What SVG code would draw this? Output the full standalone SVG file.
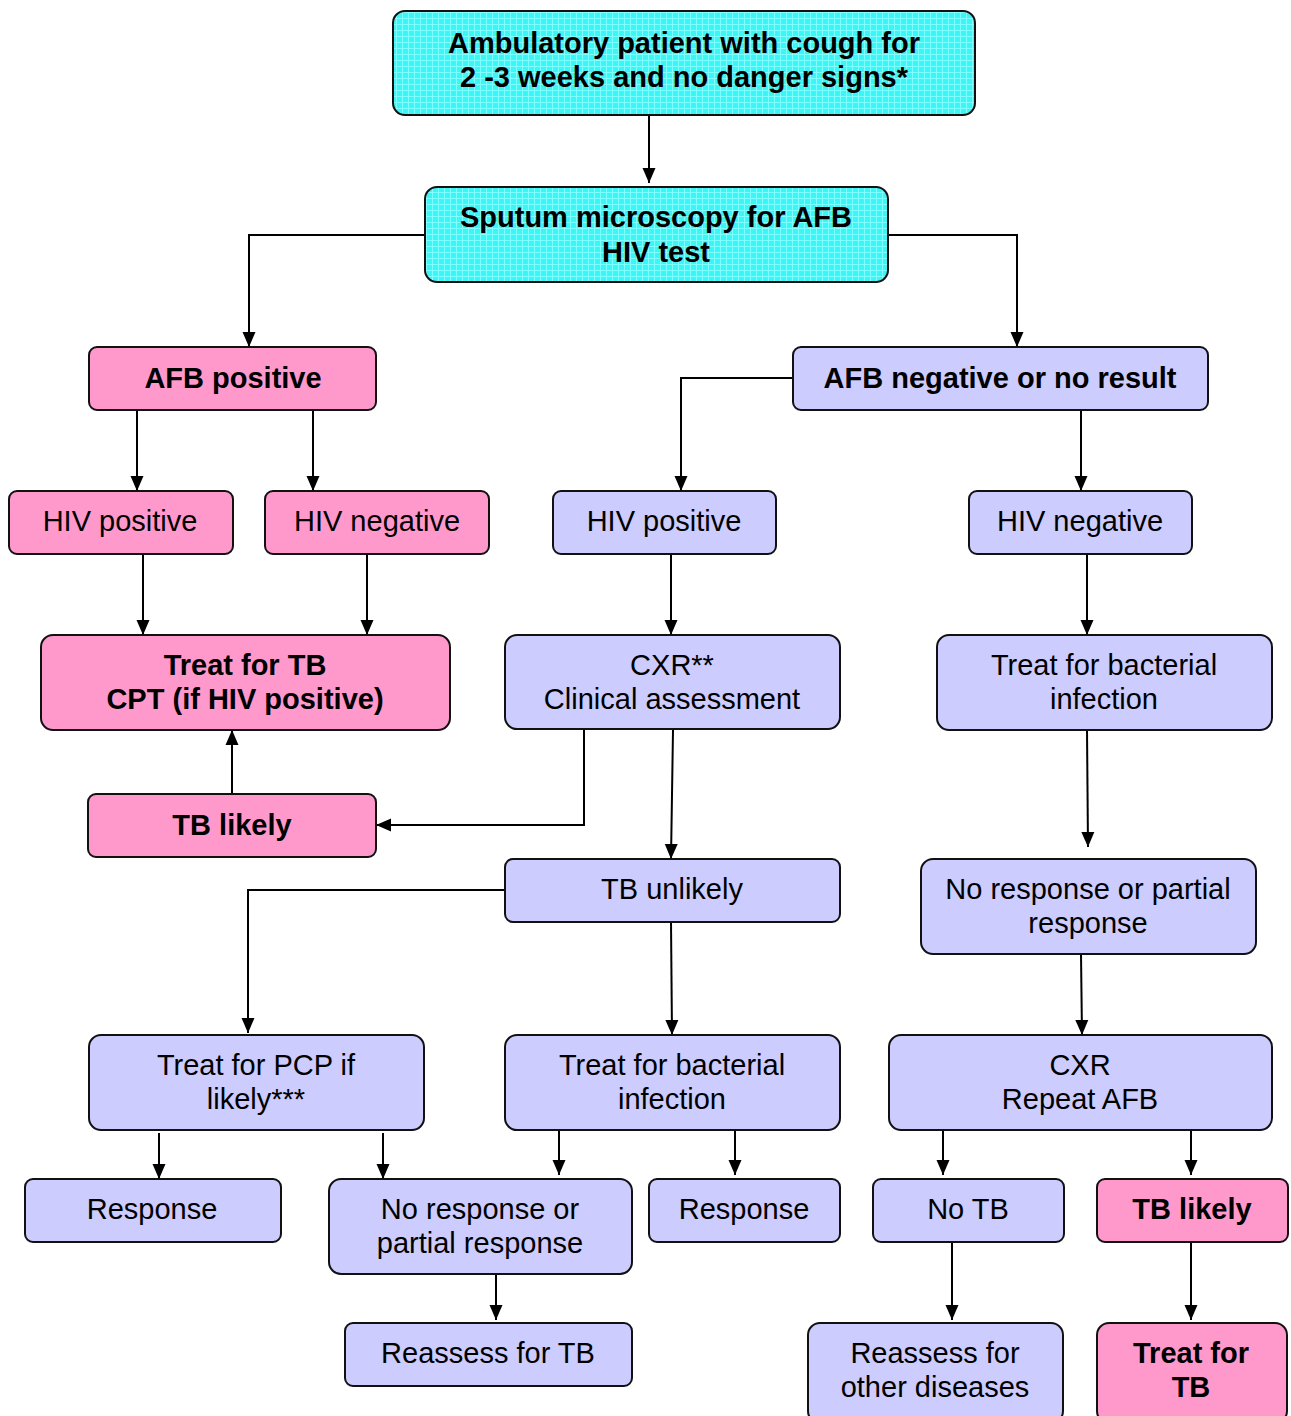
<svg xmlns="http://www.w3.org/2000/svg" width="1291" height="1416" viewBox="0 0 1291 1416">
<defs>
<pattern id="grid" width="6" height="6" patternUnits="userSpaceOnUse">
<rect width="6" height="6" fill="#3CF5F5"/>
<path d="M0 0.5H6M0.5 0V6" stroke="#7FFFFF" stroke-width="1"/>
</pattern>
<marker id="ah" markerWidth="15" markerHeight="14" refX="15" refY="7" orient="auto" markerUnits="userSpaceOnUse">
<path d="M0 0.5L15 7L0 13.5Z" fill="#000"/>
</marker>
<style>
.box{stroke:#111;stroke-width:2}
.cy{fill:url(#grid)}
.pk{fill:#FF99CC}
.bl{fill:#CCCCFF}
text{font-family:"Liberation Sans",Arial,sans-serif;font-size:29px;fill:#000;text-anchor:middle}
.b{font-weight:bold}
.c{fill:none;stroke:#000;stroke-width:2;marker-end:url(#ah)}
</style>
</defs>
<rect width="1291" height="1416" fill="#fff"/>
<g id="connectors">
<path class="c" d="M649 115V183"/>
<path class="c" d="M425 235H249V347"/>
<path class="c" d="M888 235H1017V347"/>
<path class="c" d="M137 410V491"/>
<path class="c" d="M313 410V491"/>
<path class="c" d="M793 378H681V491"/>
<path class="c" d="M1081 410V491"/>
<path class="c" d="M143 554V635"/>
<path class="c" d="M367 554V635"/>
<path class="c" d="M671 554V635"/>
<path class="c" d="M1087 554V635"/>
<path class="c" d="M232 794V730"/>
<path class="c" d="M584 730V825H376"/>
<path class="c" d="M673 730L671 859"/>
<path class="c" d="M1087 730L1088 847"/>
<path class="c" d="M505 890H248V1033"/>
<path class="c" d="M671 922L672 1035"/>
<path class="c" d="M1081 954L1082 1035"/>
<path class="c" d="M159 1133V1179"/>
<path class="c" d="M383 1133V1179"/>
<path class="c" d="M559 1130V1175"/>
<path class="c" d="M735 1130V1175"/>
<path class="c" d="M943 1130V1175"/>
<path class="c" d="M1191 1130V1175"/>
<path class="c" d="M496 1274V1320"/>
<path class="c" d="M952 1242V1320"/>
<path class="c" d="M1191 1242V1320"/>
</g>
<g id="n1"><rect class="box cy" x="393" y="11" width="582" height="104" rx="12"/><text class="b" x="684" y="53">Ambulatory patient with cough for</text><text class="b" x="684" y="87">2 -3 weeks and no danger signs*</text></g>
<g id="n2"><rect class="box cy" x="425" y="187" width="463" height="95" rx="12"/><text class="b" x="656" y="227">Sputum microscopy for AFB</text><text class="b" x="656" y="262">HIV test</text></g>
<g id="n3"><rect class="box pk" x="89" y="347" width="287" height="63" rx="8"/><text class="b" x="233" y="388">AFB positive</text></g>
<g id="n4"><rect class="box bl" x="793" y="347" width="415" height="63" rx="8"/><text class="b" x="1000" y="388">AFB negative or no result</text></g>
<g id="n5"><rect class="box pk" x="9" y="491" width="224" height="63" rx="8"/><text x="120" y="531">HIV positive</text></g>
<g id="n6"><rect class="box pk" x="265" y="491" width="224" height="63" rx="8"/><text x="377" y="531">HIV negative</text></g>
<g id="n7"><rect class="box bl" x="553" y="491" width="223" height="63" rx="8"/><text x="664" y="531">HIV positive</text></g>
<g id="n8"><rect class="box bl" x="969" y="491" width="223" height="63" rx="8"/><text x="1080" y="531">HIV negative</text></g>
<g id="n9"><rect class="box pk" x="41" y="635" width="409" height="95" rx="12"/><text class="b" x="245" y="675">Treat for TB</text><text class="b" x="245" y="709">CPT (if HIV positive)</text></g>
<g id="n10"><rect class="box bl" x="505" y="635" width="335" height="94" rx="12"/><text x="672" y="675">CXR**</text><text x="672" y="709">Clinical assessment</text></g>
<g id="n11"><rect class="box bl" x="937" y="635" width="335" height="95" rx="12"/><text x="1104" y="675">Treat for bacterial</text><text x="1104" y="709">infection</text></g>
<g id="n12"><rect class="box pk" x="88" y="794" width="288" height="63" rx="8"/><text class="b" x="232" y="835">TB likely</text></g>
<g id="n13"><rect class="box bl" x="505" y="859" width="335" height="63" rx="8"/><text x="672" y="899">TB unlikely</text></g>
<g id="n14"><rect class="box bl" x="921" y="859" width="335" height="95" rx="12"/><text x="1088" y="899">No response or partial</text><text x="1088" y="933">response</text></g>
<g id="n15"><rect class="box bl" x="89" y="1035" width="335" height="95" rx="12"/><text x="256" y="1075">Treat for PCP if</text><text x="256" y="1109">likely***</text></g>
<g id="n16"><rect class="box bl" x="505" y="1035" width="335" height="95" rx="12"/><text x="672" y="1075">Treat for bacterial</text><text x="672" y="1109">infection</text></g>
<g id="n17"><rect class="box bl" x="889" y="1035" width="383" height="95" rx="12"/><text x="1080" y="1075">CXR</text><text x="1080" y="1109">Repeat AFB</text></g>
<g id="n18"><rect class="box bl" x="25" y="1179" width="256" height="63" rx="8"/><text x="152" y="1219">Response</text></g>
<g id="n19"><rect class="box bl" x="329" y="1179" width="303" height="95" rx="12"/><text x="480" y="1219">No response or</text><text x="480" y="1253">partial response</text></g>
<g id="n20"><rect class="box bl" x="649" y="1179" width="191" height="63" rx="8"/><text x="744" y="1219">Response</text></g>
<g id="n21"><rect class="box bl" x="873" y="1179" width="191" height="63" rx="8"/><text x="968" y="1219">No TB</text></g>
<g id="n22"><rect class="box pk" x="1097" y="1179" width="191" height="63" rx="8"/><text class="b" x="1192" y="1219">TB likely</text></g>
<g id="n23"><rect class="box bl" x="345" y="1323" width="287" height="63" rx="8"/><text x="488" y="1363">Reassess for TB</text></g>
<g id="n24"><rect class="box bl" x="808" y="1323" width="255" height="100" rx="12"/><text x="935" y="1363">Reassess for</text><text x="935" y="1397">other diseases</text></g>
<g id="n25"><rect class="box pk" x="1097" y="1323" width="190" height="100" rx="12"/><text class="b" x="1191" y="1363">Treat for</text><text class="b" x="1191" y="1397">TB</text></g>
</svg>
